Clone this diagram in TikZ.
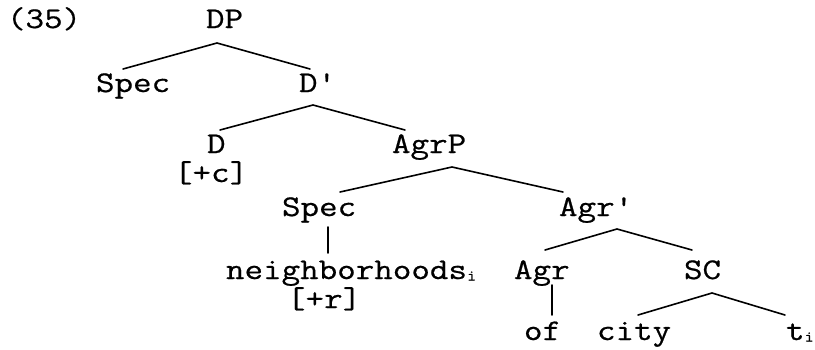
\documentclass[tikz,border=0pt]{standalone}
\usepackage{fontspec}
\setmonofont[FakeStretch=1.2,FakeBold=0.6]{Latin Modern Mono}
\newcommand{\subi}{\raisebox{-1.5pt}{\fontsize{15}{15}\selectfont i}}
\begin{document}
\begin{tikzpicture}[x=1pt,y=-1pt,
  lbl/.style={anchor=base west,inner sep=0pt,outer sep=0pt,font=\ttfamily\fontsize{30}{30}\selectfont},
  edge/.style={line width=1.6pt,line cap=round,line join=round}]
\useasboundingbox (0,0) rectangle (815,349);
% labels
\node[lbl] (num) at (7,28) {(35)};
\node[lbl] (DP) at (206,28) {DP};
\node[lbl] (Spec1) at (96,92) {Spec};
\node[lbl] (Dbar) at (299,92) {D'};
\node[lbl] (D) at (207,153) {D};
\node[lbl] (c) at (174,182) {[+c]};
\node[lbl] (AgrP) at (392,153) {AgrP};
\node[lbl] (Spec2) at (282,216) {Spec};
\node[lbl] (Agrbar) at (559,216) {Agr'};
\node[lbl] (nb) at (226,279) {neighborhoods\subi};
\node[lbl] (r) at (287,308) {[+r]};
\node[lbl] (Agr) at (514,279) {Agr};
\node[lbl] (SC) at (684,279) {SC};
\node[lbl] (of) at (524,340) {of};
\node[lbl] (city) at (597,340) {city};
\node[lbl] (t) at (786,340) {t\subi};
% attachment points
\coordinate (DP-b) at (217,43);
\coordinate (Spec1-t) at (123,69);
\coordinate (Dbar-t) at (310,69);
\coordinate (Dbar-b) at (313,105);
\coordinate (D-t) at (220,130);
\coordinate (AgrP-t) at (405,130);
\coordinate (AgrP-b) at (452,167);
\coordinate (Spec2-t) at (340,192);
\coordinate (Agrbar-t) at (563,192);
\coordinate (Spec2-b) at (328,227);
\coordinate (nb-t) at (328,253);
\coordinate (Agrbar-b) at (617,229);
\coordinate (Agr-t) at (545,250);
\coordinate (SC-t) at (692,250);
\coordinate (Agr-b) at (552,285);
\coordinate (of-t) at (552,315);
\coordinate (SC-b) at (712,293);
\coordinate (city-t) at (638,315);
\coordinate (t-t) at (785,315);
% connectors
\draw[edge] (Spec1-t) -- (DP-b) -- (Dbar-t);
\draw[edge] (D-t) -- (Dbar-b) -- (AgrP-t);
\draw[edge] (Spec2-t) -- (AgrP-b) -- (Agrbar-t);
\draw[edge] (Spec2-b) -- (nb-t);
\draw[edge] (Agr-t) -- (Agrbar-b) -- (SC-t);
\draw[edge] (Agr-b) -- (of-t);
\draw[edge] (city-t) -- (SC-b) -- (t-t);
\end{tikzpicture}
\end{document}
